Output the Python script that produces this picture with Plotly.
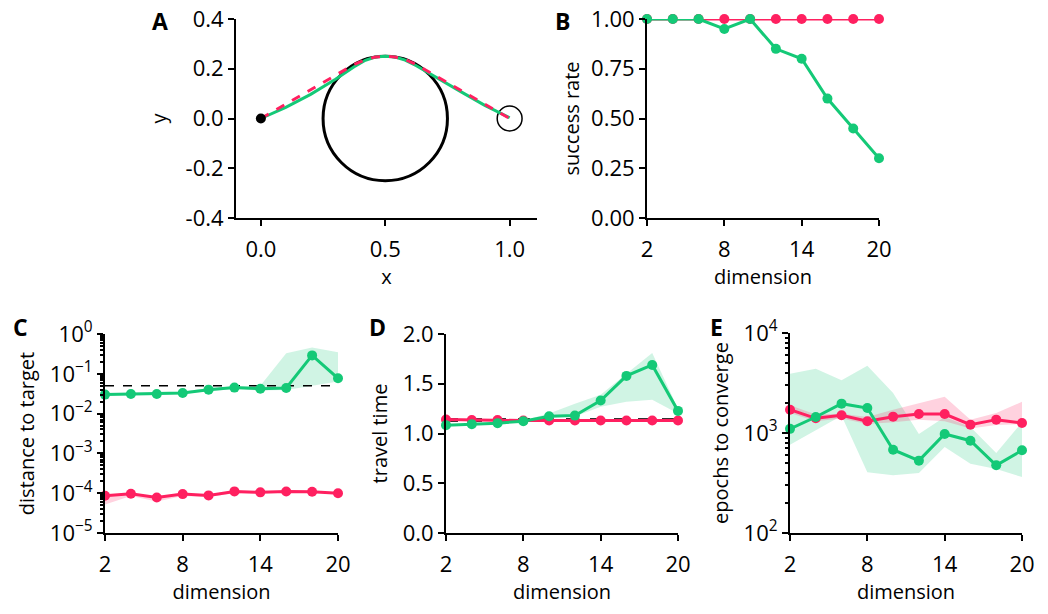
import plotly.graph_objects as go

# ---------------------------------------------------
# Data
# ---------------------------------------------------

PINK = "#ff2060"
GREEN = "#14c977"
PINK_FILL = "rgba(255,32,96,0.20)"
GREEN_FILL = "rgba(20,201,119,0.20)"

# panel A: trajectories around the obstacle
path_x = [0.0, 0.1, 0.2, 0.3, 0.375, 0.42, 0.46, 0.5, 0.54, 0.58, 0.625, 0.7, 0.8, 0.9, 1.0]
pink_path_y = [0.0, 0.058, 0.115, 0.173, 0.217, 0.237, 0.247, 0.25, 0.247, 0.237, 0.217, 0.173, 0.115, 0.058, 0.0]
green_path_y = [0.0, 0.045, 0.097, 0.158, 0.208, 0.234, 0.247, 0.25, 0.247, 0.235, 0.212, 0.167, 0.110, 0.053, 0.003]
start_point = (0.0, 0.0)
obstacle = (0.5, 0.0, 0.25)   # centre x, centre y, radius
target = (1.0, 0.0, 0.05)

dims = [2, 4, 6, 8, 10, 12, 14, 16, 18, 20]

# panel B: success rate
success_pink = [1.0] * 10
success_green = [1.0, 1.0, 1.0, 0.95, 1.0, 0.85, 0.80, 0.60, 0.45, 0.30]

# panel C: distance to target
dist_pink = [8.6e-5, 9.7e-5, 7.8e-5, 9.5e-5, 8.8e-5, 1.11e-4, 1.05e-4, 1.1e-4, 1.09e-4, 1.0e-4]
dist_pink_hi = [9.0e-5, 1.0e-4, 8.3e-5, 1.0e-4, 9.3e-5, 1.15e-4, 1.1e-4, 1.15e-4, 1.14e-4, 1.05e-4]
dist_pink_lo = [5.2e-5, 8.5e-5, 6.2e-5, 8.5e-5, 8.0e-5, 1.0e-4, 9.8e-5, 1.03e-4, 1.02e-4, 9.4e-5]
dist_green = [0.030, 0.031, 0.031, 0.033, 0.040, 0.045, 0.042, 0.044, 0.29, 0.077]
dist_green_hi = [0.033, 0.033, 0.033, 0.036, 0.044, 0.048, 0.05, 0.33, 0.46, 0.35]
dist_green_lo = [0.028, 0.028, 0.029, 0.031, 0.037, 0.041, 0.038, 0.039, 0.05, 0.064]
dist_threshold = 0.05

# panel D: travel time
time_pink = [1.14, 1.135, 1.135, 1.13, 1.13, 1.13, 1.13, 1.13, 1.13, 1.13]
time_green = [1.084, 1.094, 1.104, 1.124, 1.174, 1.18, 1.331, 1.579, 1.689, 1.227]
time_green_hi = [1.09, 1.10, 1.11, 1.13, 1.20, 1.30, 1.39, 1.60, 1.81, 1.25]
time_green_lo = [1.08, 1.09, 1.10, 1.12, 1.16, 1.17, 1.27, 1.32, 1.34, 1.20]
time_optimal = 1.135

# panel E: epochs to converge
epochs_pink = [1711, 1402, 1503, 1309, 1457, 1549, 1549, 1212, 1360, 1259]
epochs_pink_hi = [1890, 1530, 1560, 1445, 1711, 2000, 2300, 1360, 1585, 2050]
epochs_pink_lo = [1585, 1310, 1400, 1230, 1280, 1360, 1310, 1110, 1200, 1230]
epochs_green = [1100, 1445, 1965, 1778, 681, 529, 977, 838, 475, 671]
epochs_green_hi = [3920, 4400, 3360, 4710, 2510, 977, 1445, 1148, 631, 1278]
epochs_green_lo = [764, 1063, 1490, 404, 378, 398, 724, 494, 437, 363]


# ---------------------------------------------------
# Helpers
# ---------------------------------------------------

def band(x, lo, hi, color, xa, ya):
    return go.Scatter(
        x=list(x) + list(x)[::-1],
        y=list(hi) + list(lo)[::-1],
        fill="toself",
        fillcolor=color,
        line=dict(width=0),
        mode="lines",
        hoverinfo="skip",
        xaxis=xa,
        yaxis=ya,
    )


def series(x, y, color, xa, ya):
    return go.Scatter(
        x=x,
        y=y,
        mode="lines+markers",
        line=dict(color=color, width=3),
        marker=dict(color=color, size=10),
        cliponaxis=False,
        xaxis=xa,
        yaxis=ya,
    )


def sup_labels(exps):
    return ["10<sup>%s</sup>" % str(e).replace("-", "\u2212") for e in exps]


def minor_log(lo, hi):
    return [m * 10 ** e for e in range(lo, hi) for m in range(2, 10)]


fig = go.Figure()

# panel A
fig.add_trace(go.Scatter(x=path_x, y=green_path_y, mode="lines",
                         line=dict(color=GREEN, width=3), xaxis="x", yaxis="y"))
fig.add_trace(go.Scatter(x=path_x, y=pink_path_y, mode="lines",
                         line=dict(color=PINK, width=3, dash="dash"), xaxis="x", yaxis="y"))
fig.add_trace(go.Scatter(x=[start_point[0]], y=[start_point[1]], mode="markers",
                         marker=dict(color="black", size=10), xaxis="x", yaxis="y"))

# panel B
fig.add_trace(series(dims, success_pink, PINK, "x2", "y2"))
fig.add_trace(series(dims, success_green, GREEN, "x2", "y2"))

# panel C
fig.add_trace(band(dims, dist_green_lo, dist_green_hi, GREEN_FILL, "x3", "y3"))
fig.add_trace(band(dims, dist_pink_lo, dist_pink_hi, PINK_FILL, "x3", "y3"))
fig.add_trace(go.Scatter(x=[dims[0], dims[-1]], y=[dist_threshold] * 2, mode="lines",
                         line=dict(color="black", width=1.5, dash="dash"), xaxis="x3", yaxis="y3"))
fig.add_trace(series(dims, dist_pink, PINK, "x3", "y3"))
fig.add_trace(series(dims, dist_green, GREEN, "x3", "y3"))

# panel D
fig.add_trace(band(dims, time_green_lo, time_green_hi, GREEN_FILL, "x4", "y4"))
fig.add_trace(go.Scatter(x=[dims[0], dims[-1]], y=[time_optimal] * 2, mode="lines",
                         line=dict(color="#333333", width=4, dash="dash"), xaxis="x4", yaxis="y4"))
fig.add_trace(series(dims, time_pink, PINK, "x4", "y4"))
fig.add_trace(series(dims, time_green, GREEN, "x4", "y4"))

# panel E
fig.add_trace(band(dims, epochs_green_lo, epochs_green_hi, GREEN_FILL, "x5", "y5"))
fig.add_trace(band(dims, epochs_pink_lo, epochs_pink_hi, PINK_FILL, "x5", "y5"))
fig.add_trace(series(dims, epochs_pink, PINK, "x5", "y5"))
fig.add_trace(series(dims, epochs_green, GREEN, "x5", "y5"))

# ---------------------------------------------------
# Axes
# ---------------------------------------------------

axis_style = dict(
    showline=True, linecolor="black", linewidth=2,
    ticks="outside", ticklen=6, tickwidth=2, tickcolor="black",
    showgrid=False, zeroline=False, mirror=False, automargin=False,
    ticklabeloverflow="allow",
    tickfont=dict(size=22, color="black"),
    title_font=dict(size=20, color="black"),
)

W, H = 1048, 614
PAGE_PAD = 8   # the html body margin shifts the whole figure


def dom_x(a, b):
    return [(a - PAGE_PAD) / W, (b - PAGE_PAD) / W]


def dom_y(top, bottom):
    return [1 - (bottom - PAGE_PAD) / H, 1 - (top - PAGE_PAD) / H]


dim_x = dict(range=[2, 20], tickvals=[2, 8, 14, 20], title_text="dimension",
             title_standoff=8, ticklabelstandoff=5)

fig.update_layout(
    xaxis=dict(axis_style, domain=dom_x(236, 537), range=[-0.1, 1.11],
               tickvals=[0, 0.5, 1.0], ticktext=["0.0", "0.5", "1.0"],
               title_text="x", anchor="y", title_standoff=4, ticklabelstandoff=5),
    yaxis=dict(axis_style, domain=dom_y(19, 218), range=[-0.4, 0.4],
               tickvals=[-0.4, -0.2, 0, 0.2, 0.4],
               ticktext=["-0.4", "-0.2", "0.0", "0.2", "0.4"],
               title_text="y", anchor="x", title_standoff=14),
    xaxis2=dict(axis_style, domain=dom_x(647, 879), anchor="y2", **dim_x),
    yaxis2=dict(axis_style, domain=dom_y(19, 218), range=[0, 1],
                tickvals=[0, 0.25, 0.5, 0.75, 1.0], tickformat=".2f",
                title_text="success rate", anchor="x2", title_standoff=6),
    xaxis3=dict(axis_style, domain=dom_x(105, 338), anchor="y3", **dim_x),
    yaxis3=dict(axis_style, domain=dom_y(334, 533), type="log", range=[-5, 0],
                tickvals=[10 ** e for e in range(-5, 1)], ticktext=sup_labels(range(-5, 1)),
                minor=dict(ticks="outside", ticklen=3, tickwidth=1.5, tickcolor="black",
                           tickvals=minor_log(-5, 0)),
                title_text="distance to target", anchor="x3", title_standoff=10),
    xaxis4=dict(axis_style, domain=dom_x(446, 678), anchor="y4", **dim_x),
    yaxis4=dict(axis_style, domain=dom_y(334, 533), range=[0, 2],
                tickvals=[0, 0.5, 1.0, 1.5, 2.0], tickformat=".1f",
                title_text="travel time", anchor="x4", title_standoff=10),
    xaxis5=dict(axis_style, domain=dom_x(790, 1022), anchor="y5", **dim_x),
    yaxis5=dict(axis_style, domain=dom_y(333, 533), type="log", range=[2, 4],
                tickvals=[100, 1000, 10000], ticktext=sup_labels([2, 3, 4]),
                minor=dict(ticks="outside", ticklen=3, tickwidth=1.5, tickcolor="black",
                           tickvals=minor_log(2, 4)),
                title_text="epochs to converge", anchor="x5", title_standoff=10),
)

# obstacle and target circles in panel A
for cx, cy, r, w in [(obstacle[0], obstacle[1], obstacle[2], 3), (target[0], target[1], target[2], 1.5)]:
    fig.add_shape(type="circle", xref="x", yref="y",
                  x0=cx - r, x1=cx + r, y0=cy - r, y1=cy + r,
                  line=dict(color="black", width=w), layer="below")

# panel letters
for letter, px_, py_ in [("A", 160, 21), ("B", 562, 21), ("C", 20, 327), ("D", 377, 327), ("E", 716, 327)]:
    fig.add_annotation(text="<b>%s</b>" % letter, x=(px_ - PAGE_PAD) / W, y=1 - (py_ - PAGE_PAD) / H,
                       xref="paper", yref="paper", showarrow=False,
                       xanchor="center", yanchor="middle",
                       font=dict(size=23, color="black"))

fig.update_layout(
    width=W, height=H,
    margin=dict(l=0, r=0, t=0, b=0),
    showlegend=False,
    plot_bgcolor="white",
    paper_bgcolor="white",
    font=dict(family="Open Sans", size=20, color="black"),
)

fig.write_html("out.html")
